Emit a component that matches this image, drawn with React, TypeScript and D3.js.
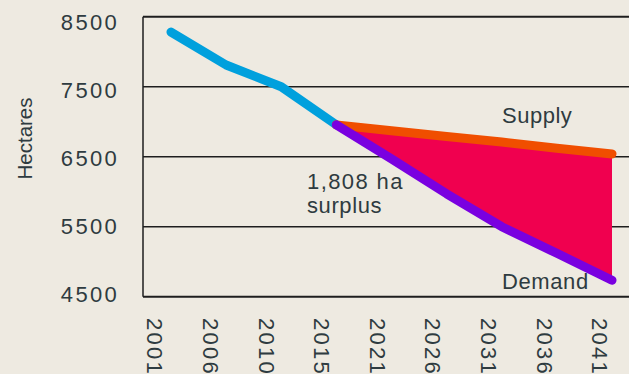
import React from "react";
import * as d3 from "d3";

const categories = ["2001", "2006", "2010", "2015", "2021", "2026", "2031", "2036", "2041"];
const historicalYears = ["2001", "2006", "2010", "2015"];
const historical = [8280, 7810, 7500, 6955];
const projectionYears = ["2015", "2021", "2026", "2031", "2036", "2041"];
const supply = [6955, 6870, 6790, 6710, 6620, 6540];
const demand = [6955, 6470, 5970, 5500, 5120, 4735];
const yTicks = [4500, 5500, 6500, 7500, 8500];

const W = 629;
const H = 374;
const BG = "#EEEAE1";
const TEXT = "#2E3B40";
const FONT = "'Liberation Sans', Arial, sans-serif";

export default function App() {
  const x = d3.scalePoint<string>().domain(categories).range([171, 612]);
  const xLabel = d3.scalePoint<string>().domain(categories).range([155, 600]);
  const y = d3.scaleLinear().domain([4500, 8500]).range([296.7, 16.7]);
  const yLabel = d3.scaleLinear().domain([4500, 8500]).range([294.5, 22.5]);

  const plotLeft = 143;
  const plotRight = W;

  const histPts = historicalYears.map((c, i) => ({ c, v: historical[i] }));
  const proj = projectionYears.map((c, i) => ({ c, s: supply[i], d: demand[i] }));

  const line = d3
    .line<{ c: string; v: number }>()
    .x((d) => x(d.c) as number)
    .y((d) => y(d.v));

  const area = d3
    .area<{ c: string; s: number; d: number }>()
    .x((d) => x(d.c) as number)
    .y0((d) => y(d.s))
    .y1((d) => y(d.d));

  const supplyPath = line(proj.map((p) => ({ c: p.c, v: p.s }))) as string;
  const demandPath = line(proj.map((p) => ({ c: p.c, v: p.d }))) as string;
  const histPath = line(histPts) as string;

  const sw = 9;

  return (
    <svg
      width={W}
      height={H}
      style={{ position: "absolute", left: 0, top: 0, display: "block" }}
    >
      <rect x={0} y={0} width={W} height={H} fill={BG} />

      {/* grid lines */}
      {yTicks.map((t) => (
        <line
          key={t}
          x1={plotLeft}
          x2={plotRight}
          y1={y(t)}
          y2={y(t)}
          stroke="#1E1E1E"
          strokeWidth={t === 8500 || t === 4500 ? 2 : 1.5}
        />
      ))}
      <line x1={plotLeft} x2={plotLeft} y1={y(8500)} y2={y(4500)} stroke="#1E1E1E" strokeWidth={1.5} />

      {/* y tick labels */}
      {yTicks.map((t) => (
        <text
          key={t}
          x={119}
          y={yLabel(t)}
          dy="0.35em"
          textAnchor="end"
          fontFamily={FONT}
          fontSize={22}
          letterSpacing={2.3}
          fill={TEXT}
        >
          {t}
        </text>
      ))}

      {/* y axis title */}
      <text
        transform={`translate(31.5, 138.5) rotate(-90)`}
        textAnchor="middle"
        fontFamily={FONT}
        fontSize={20.5}
        fill={TEXT}
      >
        Hectares
      </text>

      {/* x tick labels */}
      {categories.map((c) => (
        <text
          key={c}
          transform={`translate(${xLabel(c)}, 318) rotate(90)`}
          dy="0.35em"
          textAnchor="start"
          fontFamily={FONT}
          fontSize={22}
          letterSpacing={2.3}
          fill={TEXT}
        >
          {c}
        </text>
      ))}

      {/* surplus area */}
      <path d={area(proj) as string} fill="#F0004F" />

      {/* lines */}
      <path d={histPath} fill="none" stroke="#00A0DD" strokeWidth={sw} strokeLinecap="round" strokeLinejoin="round" />
      <path d={supplyPath} fill="none" stroke="#F04E00" strokeWidth={sw} strokeLinecap="round" strokeLinejoin="round" />
      <path d={demandPath} fill="none" stroke="#7A00E0" strokeWidth={sw} strokeLinecap="round" strokeLinejoin="round" />

      {/* annotations */}
      <text x={502} y={123.3} fontFamily={FONT} fontSize={22} fill={TEXT} letterSpacing={0.5}>
        Supply
      </text>
      <text x={307} y={189} fontFamily={FONT} fontSize={22} fill={TEXT} letterSpacing={1.4}>
        1,808 ha
      </text>
      <text x={307} y={212.7} fontFamily={FONT} fontSize={22} fill={TEXT} letterSpacing={0.6}>
        surplus
      </text>
      <text x={502} y={289.3} fontFamily={FONT} fontSize={22} fill={TEXT} letterSpacing={0.6}>
        Demand
      </text>
    </svg>
  );
}
